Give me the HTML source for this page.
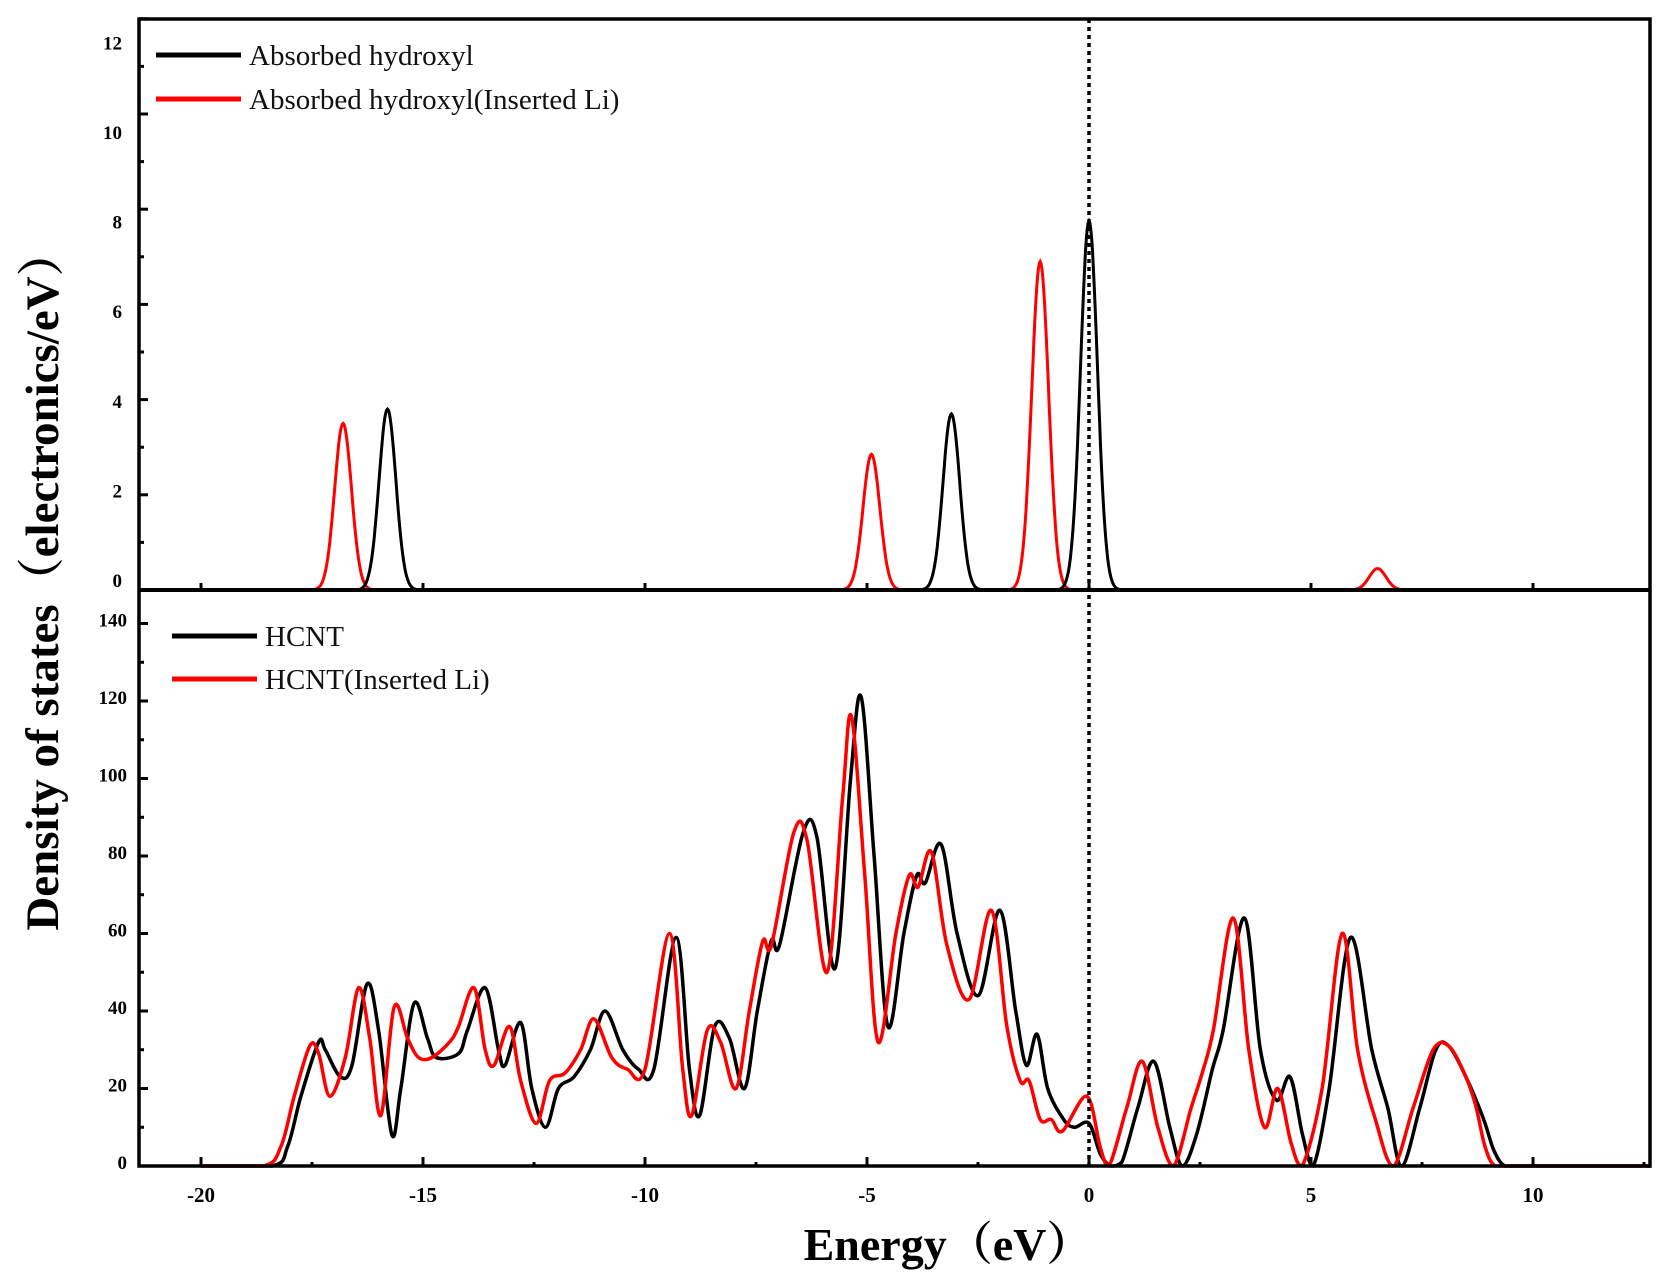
<!DOCTYPE html>
<html><head><meta charset="utf-8">
<style>
html,body{margin:0;padding:0;background:#fff;}
svg{display:block;}
text{font-family:"Liberation Serif","Noto Serif CJK SC",serif;}
</style></head>
<body>
<svg id="chart" width="1666" height="1288" viewBox="0 0 1666 1288" xmlns="http://www.w3.org/2000/svg">
<g id="plot"></g>
</svg>
<script>
// ---- data ----
const topPeakCentersBlack = [-15.8, -3.1, 0.0];
const topPeakHeightsBlack = [3.8, 3.7, 7.75];
const topPeakCentersRed = [-16.8, -4.9, -1.1, 6.5];
const topPeakHeightsRed = [3.5, 2.85, 6.9, 0.45];
const topPeakSigma = 0.19;
const hcntE = [-20,-18.4,-18.05,-17.75,-17.35,-17.2,-16.86,-16.6,-16.26,-16.0,-15.7,-15.5,-15.2,-14.9,-14.7,-14.2,-14.0,-13.6,-13.3,-13.15,-12.8,-12.55,-12.24,-11.95,-11.6,-11.23,-10.9,-10.5,-10.15,-9.8,-9.3,-9.0,-8.77,-8.43,-8.1,-7.76,-7.47,-7.16,-6.97,-6.44,-6.13,-5.72,-5.37,-5.13,-4.84,-4.53,-4.17,-3.88,-3.69,-3.33,-2.97,-2.49,-2.01,-1.65,-1.41,-1.17,-0.93,-0.57,-0.33,0,0.26,0.5,0.74,1.1,1.46,1.82,2.1,2.42,2.78,3.02,3.5,3.86,4.22,4.53,4.81,5.05,5.41,5.89,6.37,6.73,7.04,7.45,7.81,8.1,8.53,8.89,9.12,9.37,9.8,12.65];
const hcntDos = [0,0,5,18,32,30,23,26,47,35,8,20,42,33,28,29,35,46,30,26,37,20,10,20,23,30,40,30,25,25,59,25,13,36,33,20,40,58,57,86,85,51,100,121,80,36,60,75,73,83,60,44,66,40,26,34,20,12,10,11,3,0,1,15,27,10,0,8,25,35,64,30,17,23,8,0,20,59,30,15,0,15,30,31,22,12,4,0,0,0];
const hcntLiE = [-20,-18.6,-18.2,-17.9,-17.55,-17.35,-17.1,-16.75,-16.45,-16.2,-15.95,-15.65,-15.35,-15.1,-14.8,-14.4,-14.2,-13.85,-13.6,-13.4,-13.05,-12.8,-12.45,-12.15,-11.8,-11.45,-11.15,-10.75,-10.4,-10.0,-9.45,-9.15,-8.95,-8.6,-8.3,-7.95,-7.65,-7.35,-7.15,-6.65,-6.35,-5.9,-5.55,-5.35,-5.05,-4.75,-4.35,-4.05,-3.85,-3.55,-3.2,-2.7,-2.2,-1.85,-1.55,-1.35,-1.1,-0.85,-0.6,-0.05,0.25,0.45,0.85,1.2,1.55,1.9,2.3,2.55,2.8,3.25,3.6,3.95,4.25,4.55,4.8,5.25,5.7,6.05,6.45,6.85,7.3,7.75,8.1,8.45,8.7,8.92,9.15,9.6,12.65];
const hcntLiDos = [0,0,5,18,31,29,18,28,46,33,13,41,33,28,28,32,36,46,30,26,36,22,11,22,24,30,38,28,25,25,60,25,13,35,32,20,40,58,57,86,84,50,95,116,75,32,60,75,72,81,57,43,66,36,22,22,12,12,9,18,5,0,15,27,10,0,15,24,35,64,30,10,20,6,0,20,60,30,12,0,15,30,31,24,16,5,0,0,0];
const xTicks = [-20,-15,-10,-5,0,5,10];
const xMinor = [-17.5,-12.5,-7.5,-2.5,2.5,7.5,12.5];
const topYTicks = [0,2,4,6,8,10,12];
const botYTicks = [0,20,40,60,80,100,120,140];

// ---- geometry ----
const L=139, R=1650, T=19, MID=590, B=1166;
const X = e => 1089 + e*44.4;
const YT = v => MID - v*47.6;
const YB = v => B - v*3.875;
const NS="http://www.w3.org/2000/svg";
const g=document.getElementById('plot');
function mk(tag, attrs, parent){const el=document.createElementNS(NS,tag);for(const k in attrs)el.setAttribute(k,attrs[k]);(parent||g).appendChild(el);return el;}

function catmull(pts){
  let d=`M${pts[0][0].toFixed(1)},${pts[0][1].toFixed(1)}`;
  for(let i=0;i<pts.length-1;i++){
    const p0=pts[Math.max(0,i-1)],p1=pts[i],p2=pts[i+1],p3=pts[Math.min(pts.length-1,i+2)];
    const c1x=p1[0]+(p2[0]-p0[0])/6, c1y=p1[1]+(p2[1]-p0[1])/6;
    const c2x=p2[0]-(p3[0]-p1[0])/6, c2y=p2[1]-(p3[1]-p1[1])/6;
    d+=` C${c1x.toFixed(1)},${Math.min(B,c1y).toFixed(1)} ${c2x.toFixed(1)},${Math.min(B,c2y).toFixed(1)} ${p2[0].toFixed(1)},${p2[1].toFixed(1)}`;
  }
  return d;
}
function gaussPath(centers, heights){
  const pts=[];
  for(let e=-20;e<=12.65;e+=0.02){
    let v=0;
    for(let i=0;i<centers.length;i++) v+=heights[i]*Math.exp(-((e-centers[i])**2)/(2*topPeakSigma*topPeakSigma));
    pts.push(`${X(e).toFixed(1)},${YT(v).toFixed(1)}`);
  }
  return 'M'+pts.join(' L');
}

// top series
let p=mk('path',{d:gaussPath(topPeakCentersRed,topPeakHeightsRed),fill:'none',stroke:'#ff0000','stroke-width':3});


p=mk('path',{d:gaussPath(topPeakCentersBlack,topPeakHeightsBlack),fill:'none',stroke:'#000','stroke-width':3});



// bottom series
p=mk('path',{d:catmull(hcntE.map((e,i)=>[X(e),YB(hcntDos[i])])),fill:'none',stroke:'#000','stroke-width':3.5});


p=mk('path',{d:catmull(hcntLiE.map((e,i)=>[X(e),YB(hcntLiDos[i])])),fill:'none',stroke:'#ff0000','stroke-width':3.5});



// fermi line
p=mk('line',{x1:X(0),x2:X(0),y1:T,y2:B,stroke:'#000','stroke-width':3.5,'stroke-dasharray':'4,4'});



// frames
p=mk('rect',{x:L,y:T,width:R-L,height:B-T,fill:'none',stroke:'#000','stroke-width':3.5});


p=mk('line',{x1:L,x2:R,y1:MID,y2:MID,stroke:'#000','stroke-width':4});



// x ticks
xTicks.forEach(t=>{
  let tk=mk('line',{x1:X(t),x2:X(t),y1:B,y2:B-9,stroke:'#000','stroke-width':3});
  
  
  tk=mk('line',{x1:X(t),x2:X(t),y1:MID,y2:MID-7,stroke:'#000','stroke-width':3});
  
  
  const lb=mk('text',{x:X(t),y:B+36,'text-anchor':'middle','font-size':21,'font-weight':'bold'});
  lb.textContent=t;
  
  
});
xMinor.forEach(t=>{
  let tk=mk('line',{x1:X(t),x2:X(t),y1:B,y2:B-4,stroke:'#000','stroke-width':3});
  
  
});
// top y ticks
topYTicks.forEach(v=>{
  let tk=mk('line',{x1:L,x2:L+9,y1:YT(v),y2:YT(v),stroke:'#000','stroke-width':3});
  
  
  if(v<12){tk=mk('line',{x1:L,x2:L+5,y1:YT(v+1),y2:YT(v+1),stroke:'#000','stroke-width':3});
  
  }
  const lb=mk('text',{x:L-17,y:587-v*44.8,'text-anchor':'end','font-size':19,'font-weight':'bold'});
  lb.textContent=v;
  
  
});
// bottom y ticks
botYTicks.forEach(v=>{
  let tk=mk('line',{x1:L,x2:L+9,y1:YB(v),y2:YB(v),stroke:'#000','stroke-width':3});
  
  
  if(v<140){tk=mk('line',{x1:L,x2:L+5,y1:YB(v+10),y2:YB(v+10),stroke:'#000','stroke-width':3});
  
  }
  const lb=mk('text',{x:L-12,y:YB(v)+3,'text-anchor':'end','font-size':19,'font-weight':'bold'});
  lb.textContent=v;
  
  
});

// legends
function legend(x1,x2,y,color,label,name){
  const gg=mk('g',{});
  
  
  mk('line',{x1:x1,x2:x2,y1:y,y2:y,stroke:color,'stroke-width':5},gg);
  const t=mk('text',{x:x2+8,y:y+10,'font-size':29,fill:'#111'},gg);
  t.textContent=label;
}
legend(156,241,55,'#000','Absorbed hydroxyl','legend-absorbed-hydroxyl');
legend(156,241,99,'#ff0000','Absorbed hydroxyl(Inserted Li)','legend-absorbed-hydroxyl-li');
legend(172,257,636,'#000','HCNT','legend-hcnt');
legend(172,257,679,'#ff0000','HCNT(Inserted Li)','legend-hcnt-li');

// axis titles
let yt=mk('text',{x:0,y:0,'text-anchor':'middle','font-size':47,'font-weight':'bold',transform:'translate(58,580) rotate(-90)'});
yt.textContent='Density of states（electronics/eV）';


let xt=mk('text',{x:948,y:1260,'text-anchor':'middle','font-size':46,'font-weight':'bold'});
xt.textContent='Energy（eV）';


</script>
</body></html>
